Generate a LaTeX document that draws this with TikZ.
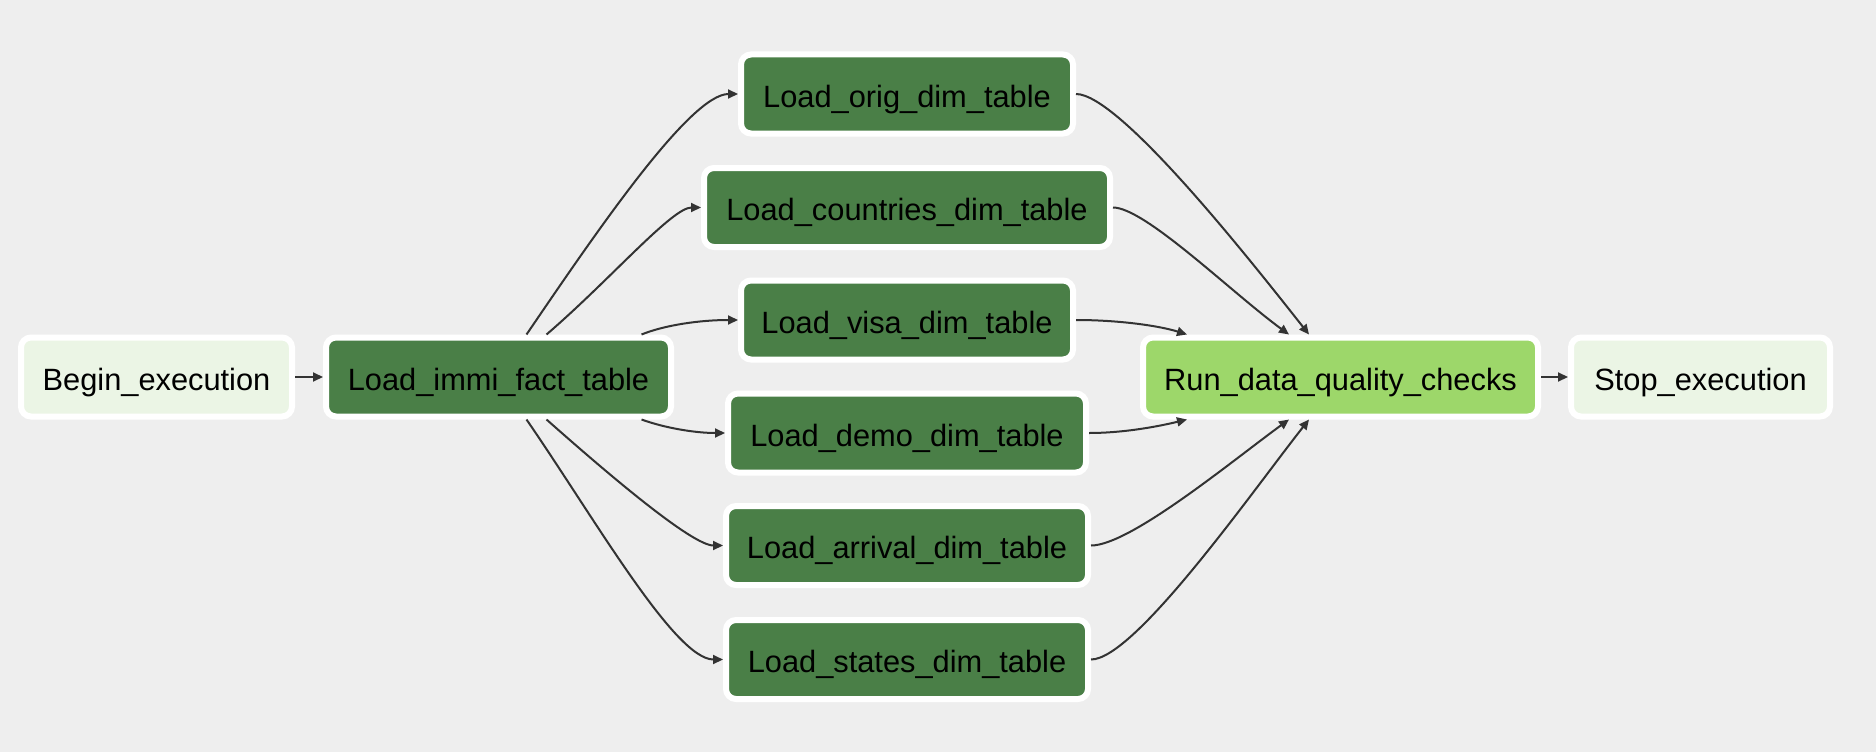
\documentclass[tikz,border=0pt]{standalone}
\usepackage{fontspec}
\setmainfont{Liberation Sans}
\usetikzlibrary{arrows.meta}
\definecolor{bgc}{HTML}{EEEEEE}
\definecolor{darkg}{HTML}{4A7F47}
\definecolor{runc}{HTML}{9DD76A}
\definecolor{lightg}{HTML}{EBF5E5}
\definecolor{edgec}{HTML}{333333}
\tikzset{
  task/.style={draw=white, line width=6pt, rounded corners=10pt, inner sep=0pt,
    minimum height=79pt, text height=30pt, text depth=4pt, text=black,
    font=\fontsize{30.8}{36}\selectfont},
  dimtask/.style={task, fill=darkg},
  conn/.style={draw=edgec, line width=2pt, -{Triangle[length=10pt,width=9pt]}}
}
\begin{document}
\begin{tikzpicture}[x=1pt,y=-1pt]
\fill[bgc] (0,0) rectangle (1876,752);
\useasboundingbox (0,0) rectangle (1876,752);

\node[task, fill=lightg, minimum width=271pt] (begin) at (156.5,377) {Begin\_execution};
\node[dimtask, minimum width=345pt] (immi) at (498.5,377) {Load\_immi\_fact\_table};
\node[dimtask, minimum width=332pt] (orig) at (907,94) {Load\_orig\_dim\_table};
\node[dimtask, minimum width=406pt] (countries) at (907,207.5) {Load\_countries\_dim\_table};
\node[dimtask, minimum width=332pt] (visa) at (907,320) {Load\_visa\_dim\_table};
\node[dimtask, minimum width=358pt] (demo) at (907,433) {Load\_demo\_dim\_table};
\node[dimtask, minimum width=362pt] (arrival) at (907,545.5) {Load\_arrival\_dim\_table};
\node[dimtask, minimum width=362pt] (states) at (907,659.5) {Load\_states\_dim\_table};
\node[task, fill=runc, minimum width=395pt] (run) at (1340.5,377) {Run\_data\_quality\_checks};
\node[task, fill=lightg, minimum width=259pt] (stop) at (1700.5,377) {Stop\_execution};

\draw[conn] (begin.east) -- (immi.west);
\draw[conn] (run.east) -- (stop.west);

\draw[conn] ([xshift=28pt]immi.north) .. controls (595,234) and (690,94) .. (orig.west);
\draw[conn] ([xshift=48pt]immi.north) .. controls (610,280) and (672,207.5) .. (countries.west);
\draw[conn] ([xshift=143pt]immi.north) .. controls (665,325) and (700,320) .. (visa.west);
\draw[conn] ([xshift=143pt]immi.south) .. controls (665,428) and (695,433) .. (demo.west);
\draw[conn] ([xshift=48pt]immi.south) .. controls (608,474) and (692,545.5) .. (arrival.west);
\draw[conn] ([xshift=28pt]immi.south) .. controls (595,519) and (675,659.5) .. (states.west);

\draw[conn] (orig.east) .. controls (1120,94) and (1254,265) .. ([xshift=-31.5pt]run.north);
\draw[conn] (countries.east) .. controls (1145,207.5) and (1232,293) .. ([xshift=-51.5pt]run.north);
\draw[conn] (visa.east) .. controls (1120,320) and (1160,326) .. ([xshift=-153.5pt]run.north);
\draw[conn] (demo.east) .. controls (1125,433) and (1160,426) .. ([xshift=-153.5pt]run.south);
\draw[conn] (arrival.east) .. controls (1130,545.5) and (1232,461) .. ([xshift=-51.5pt]run.south);
\draw[conn] (states.east) .. controls (1135,659.5) and (1254,489) .. ([xshift=-31.5pt]run.south);
\end{tikzpicture}
\end{document}
